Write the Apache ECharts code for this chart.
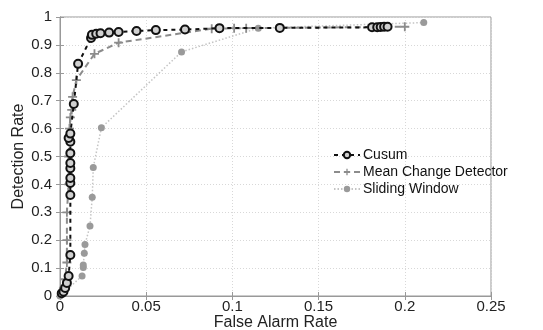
<!DOCTYPE html>
<html><head><meta charset="utf-8">
<script src="https://cdn.jsdelivr.net/npm/echarts@6/dist/echarts.min.js"></script>
<style>html,body{margin:0;padding:0;background:#fff}#c{width:543px;height:330px}</style>
</head><body><div id="c"></div>
<script>
var seriesNames = ['Cusum', 'Mean Change Detector', 'Sliding Window'];
var xTicks = [0, 0.05, 0.1, 0.15, 0.2, 0.25];
var yTicks = [0, 0.1, 0.2, 0.3, 0.4, 0.5, 0.6, 0.7, 0.8, 0.9, 1];

var cusumX = [0.001, 0.002, 0.003, 0.004, 0.005, 0.006, 0.006, 0.006, 0.006, 0.006, 0.006, 0.006, 0.006, 0.005, 0.006, 0.008, 0.0105, 0.018, 0.0185, 0.021, 0.0235, 0.0285, 0.034, 0.0444, 0.0556, 0.0725, 0.0925, 0.1275, 0.181, 0.184, 0.186, 0.188, 0.19];
var cusumY = [0.01, 0.015, 0.029, 0.047, 0.072, 0.147, 0.362, 0.405, 0.423, 0.458, 0.477, 0.512, 0.553, 0.566, 0.582, 0.688, 0.832, 0.925, 0.936, 0.94, 0.942, 0.944, 0.946, 0.95, 0.953, 0.955, 0.96, 0.961, 0.963, 0.963, 0.964, 0.965, 0.965];

var mcdX = [0.001, 0.002, 0.003, 0.004, 0.004, 0.004, 0.005, 0.005, 0.0055, 0.006, 0.0068, 0.0073, 0.0095, 0.02, 0.034, 0.088, 0.101, 0.108, 0.2];
var mcdY = [0.01, 0.03, 0.06, 0.12, 0.2, 0.3, 0.4, 0.5, 0.6, 0.64, 0.667, 0.714, 0.774, 0.868, 0.908, 0.958, 0.96, 0.96, 0.965];

var swX = [0.0, 0.0128, 0.0135, 0.0135, 0.0141, 0.0145, 0.0174, 0.0187, 0.0193, 0.024, 0.0705, 0.115, 0.211];
var swY = [0.0, 0.072, 0.102, 0.111, 0.153, 0.185, 0.251, 0.354, 0.461, 0.603, 0.875, 0.96, 0.98];

function pairs(xs, ys) { return xs.map(function (x, i) { return [x, ys[i]]; }); }

var chart = echarts.init(document.getElementById('c'), null, {renderer: 'canvas'});
var font = 'Liberation Sans, Arial, sans-serif';
var gridLine = {show: true, lineStyle: {color: '#d8d8d8', type: [1, 2], width: 1}};
var axisLine = {show: true, lineStyle: {color: '#999', width: 1}};
chart.setOption({
  animation: false,
  backgroundColor: '#fff',
  textStyle: {fontFamily: font},
  grid: {left: 60, right: 52, top: 17, bottom: 34, show: true, borderColor: '#999', borderWidth: 1,
         containLabel: false, outerBoundsMode: 'none'},
  legend: {
    data: seriesNames, orient: 'vertical', left: 328, top: 143, itemWidth: 26, itemHeight: 8, itemGap: 3,
    textStyle: {fontSize: 14, color: '#111', fontFamily: font, padding: [0, 0, 0, -2]}
  },
  xAxis: [{
    type: 'value', min: xTicks[0], max: xTicks[xTicks.length - 1], interval: 0.05,
    name: 'False Alarm Rate', nameLocation: 'middle', nameGap: 19, nameMoveOverlap: false,
    nameTextStyle: {fontSize: 16, color: '#222', lineHeight: 16},
    axisLine: axisLine, axisTick: {show: true, inside: true, length: 4, lineStyle: {color: '#999'}},
    axisLabel: {fontSize: 15, color: '#222', margin: 3, lineHeight: 15},
    splitLine: gridLine
  }, {
    type: 'value', position: 'top', min: 0, max: 0.25, interval: 0.05,
    axisLine: axisLine, axisTick: {show: true, inside: true, length: 4, lineStyle: {color: '#999'}},
    axisLabel: {show: false}, splitLine: {show: false}
  }],
  yAxis: [{
    type: 'value', min: yTicks[0], max: yTicks[yTicks.length - 1], interval: 0.1,
    name: 'Detection Rate', nameLocation: 'middle', nameGap: 33, nameMoveOverlap: false,
    nameTextStyle: {fontSize: 16, color: '#222'},
    axisLine: axisLine, axisTick: {show: true, inside: true, length: 4, lineStyle: {color: '#999'}},
    axisLabel: {fontSize: 15, color: '#222', margin: 8},
    splitLine: gridLine
  }, {
    type: 'value', position: 'right', min: 0, max: 1, interval: 0.1,
    axisLine: axisLine, axisTick: {show: true, inside: true, length: 4, lineStyle: {color: '#999'}},
    axisLabel: {show: false}, splitLine: {show: false}
  }],
  series: [{
    name: 'Sliding Window', type: 'line', data: pairs(swX, swY), z: 2,
    symbol: 'circle', symbolSize: 7,
    lineStyle: {color: '#c4c4c4', width: 1.5, type: [1.5, 2]},
    itemStyle: {color: '#9a9a9a', borderColor: '#9a9a9a', borderWidth: 0}
  }, {
    name: 'Mean Change Detector', type: 'line', data: pairs(mcdX, mcdY), z: 3,
    symbol: 'path://M4,0h2v4h4v2h-4v4h-2v-4h-4v-2h4z', symbolSize: 9,
    lineStyle: {color: '#8c8c8c', width: 2, type: [6, 4]},
    itemStyle: {color: '#8c8c8c', borderWidth: 0}
  }, {
    name: 'Cusum', type: 'line', data: pairs(cusumX, cusumY), z: 4,
    symbol: 'circle', symbolSize: 8,
    lineStyle: {color: '#111', width: 2, type: [4, 4]},
    itemStyle: {color: '#d0d0d0', borderColor: '#111', borderWidth: 2}
  }]
});
</script></body></html>
